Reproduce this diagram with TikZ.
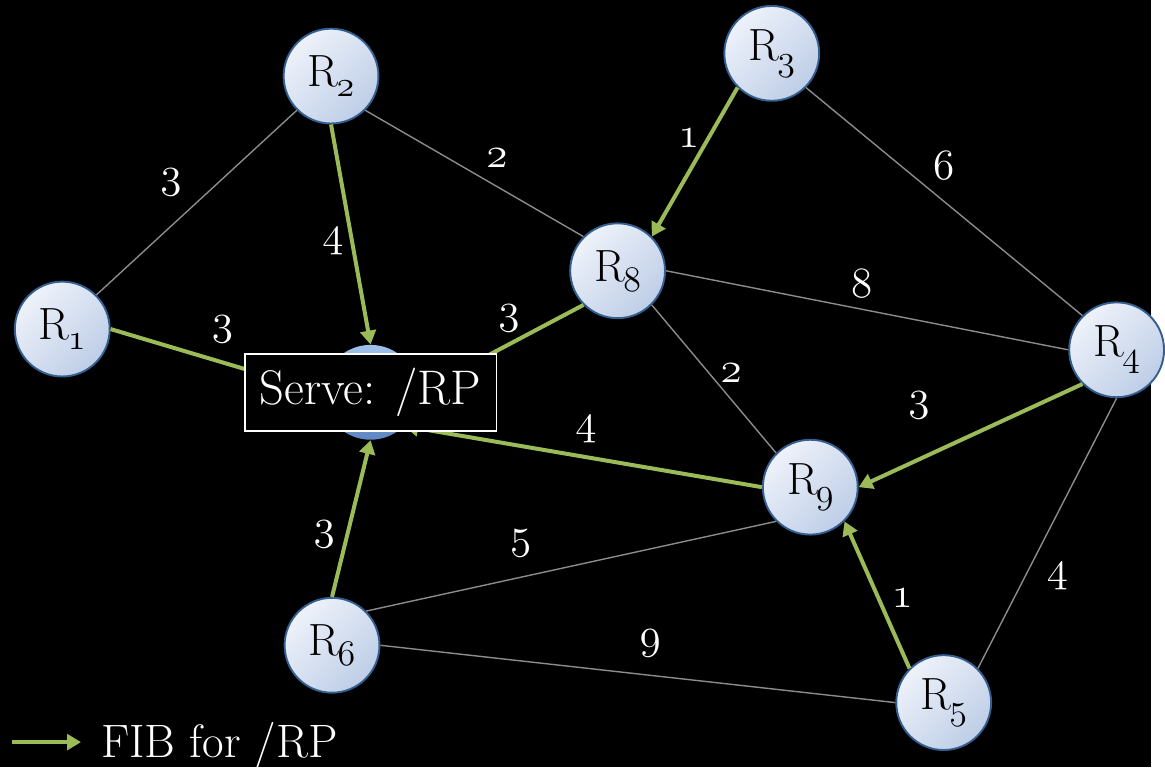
\documentclass[tikz,border=0pt]{standalone}
\usetikzlibrary{arrows.meta}
\definecolor{fibgreen}{RGB}{155,187,89}
\definecolor{linkgray}{RGB}{140,140,140}
\definecolor{rtop}{RGB}{238,242,250}
\definecolor{rbottom}{RGB}{190,206,231}
\definecolor{rborder}{RGB}{52,95,145}
\definecolor{rballtop}{RGB}{160,192,235}
\definecolor{rballbot}{RGB}{95,135,195}
% old style figures from the math italic font
\newcommand\osn[1]{{\usefont{OML}{cmm}{m}{it}#1}}
\newcommand\rname[1]{R\kern-1pt\raisebox{-0.5ex}{\fontsize{20}{20}\selectfont\osn{#1}}}

\begin{document}
\begin{tikzpicture}[x=0.02cm,y=-0.02cm,
    router/.style={circle,draw=rborder,line width=1.1pt,minimum size=1.92cm,inner sep=0pt,
      top color=rtop,bottom color=rbottom,shading angle=45,font=\fontsize{26}{30}\selectfont},
    link/.style={linkgray,line width=0.8pt},
    fibline/.style={fibgreen,line width=2.3pt},
    fib/.style={fibline,-{Triangle[length=8pt,width=9pt]}},
    wt/.style={text=white,font=\fontsize{26}{30}\selectfont}]
\fill[black] (0,0) rectangle (1165,776);

% routers
\node[router] (r1) at (63,333) {\rname{1}};
\node[router] (r2) at (335,77) {\rname{2}};
\node[router] (r3) at (781,54) {\rname{3}};
\node[router] (r4) at (1130,354) {\rname{4}};
\node[router] (r5) at (955,711) {\rname{5}};
\node[router] (r6) at (336,653) {\rname{6}};
\node[router] (r8) at (625,274) {\rname{8}};
\node[router] (r9) at (820,493) {\rname{9}};
\node[circle,minimum size=1.92cm,inner sep=0pt,top color=rballtop,bottom color=rballbot] (r7) at (375,397) {};

% plain links
\draw[link] (r1.north east) -- (r2.south west);
\draw[link] (r2.south east) -- (r8.north west);
\draw[link] (r3.south east) -- (r4.north west);
\draw[link] (r8.east) -- (r4.west);
\draw[link] (r8.south east) -- (r9.north west);
\draw[link] (r9.south west) -- (r6.north east);
\draw[link] (r6.east) -- (r5.west);
\draw[link] (r4.south) -- (r5.north east);

% FIB entries
\draw[fibline] (r1.east) -- (r7.west);
\draw[fibline] (r8.south west) -- (r7.east);
\draw[fib] (r2.south) -- (r7.north);
\draw[fib] (r3.south west) -- (r8.north east);
\draw[fib] (r4.south west) -- (r9.east);
\draw[fib] (r9.west) -- (r7.south east);
\draw[fib] (r6.north) -- (r7.south);
\draw[fib] (r5.north west) -- (r9.south east);

% weights
\node[wt] (w12) at (173,185) {\osn{3}};
\node[wt] (w28) at (503,160) {\osn{2}};
\node[wt] (w38) at (697,140) {\osn{1}};
\node[wt] (w34) at (955,168) {\osn{6}};
\node[wt] (w27) at (337,244) {\osn{4}};
\node[wt] (w84) at (872,287) {\osn{8}};
\node[wt] (w17) at (225,333) {\osn{3}};
\node[wt] (w87) at (515,322) {\osn{3}};
\node[wt] (w89) at (740,378) {\osn{2}};
\node[wt] (w49) at (930,410) {\osn{3}};
\node[wt] (w97) at (593,435) {\osn{4}};
\node[wt] (w67) at (328,541) {\osn{3}};
\node[wt] (w96) at (527,550) {\osn{5}};
\node[wt] (w59) at (913,605) {\osn{1}};
\node[wt] (w65) at (658,651) {\osn{9}};
\node[wt] (w45) at (1070,583) {\osn{4}};

% served prefix
\node[draw=white,line width=1.1pt,fill=black,text=white,minimum width=5.1cm,minimum height=1.56cm,
  font=\fontsize{28}{30}\selectfont] (serve) at (r7.center) {Serve: /RP};

% legend
\coordinate (legA) at (12,751);
\coordinate (legB) at (82,751);
\draw[fib] (legA) -- (legB);
\node[text=white,anchor=base west,inner sep=0pt,font=\fontsize{27}{30}\selectfont] (leg) at (102,767) {FIB for /RP};
\end{tikzpicture}
\end{document}
